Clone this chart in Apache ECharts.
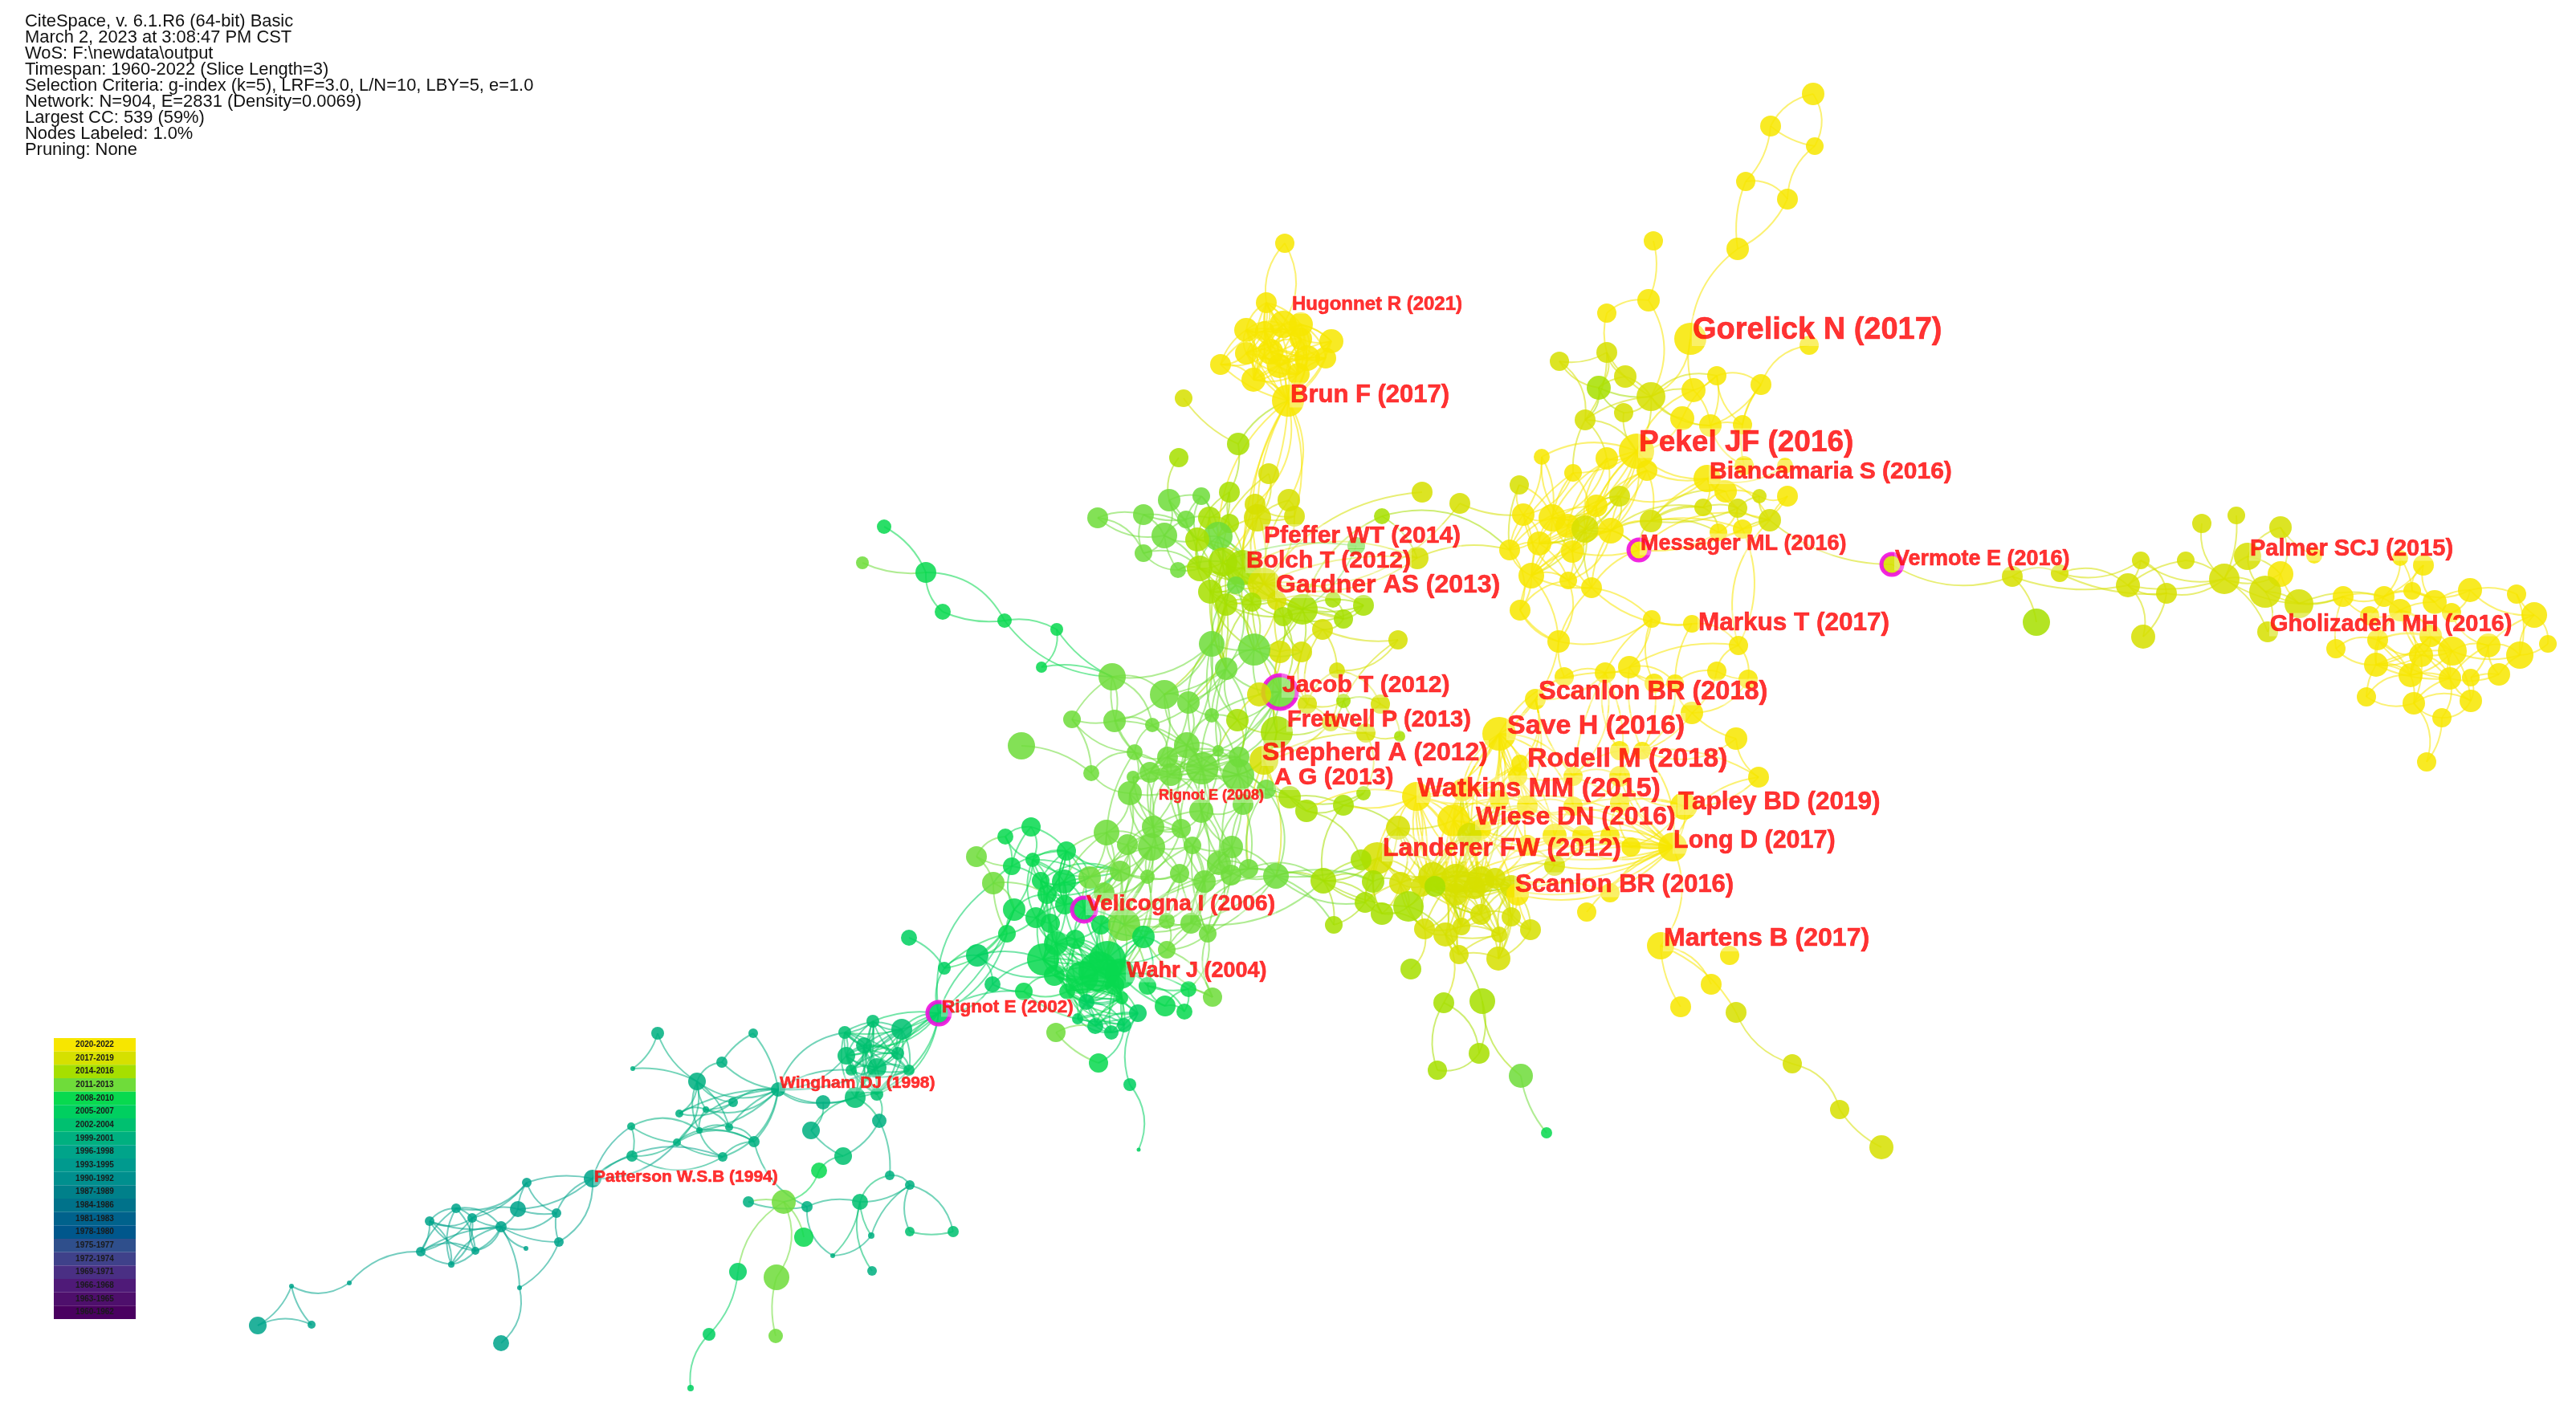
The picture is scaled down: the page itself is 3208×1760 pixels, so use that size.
<!DOCTYPE html>
<html>
<head>
<meta charset="utf-8">
<title>CiteSpace co-citation network</title>
<style>
  html, body { margin: 0; padding: 0; background: #fff; }
  #main { width: 3208px; height: 1760px; }
</style>
<script src="https://cdn.jsdelivr.net/npm/echarts@6/dist/echarts.min.js"></script>
</head>
<body>
<div id="main"></div>
<script>
const infoLines = [
  'CiteSpace, v. 6.1.R6 (64-bit) Basic',
  'March 2, 2023 at 3:08:47 PM CST',
  'WoS: F:\\newdata\\output',
  'Timespan: 1960-2022 (Slice Length=3)',
  'Selection Criteria: g-index (k=5), LRF=3.0, L/N=10, LBY=5, e=1.0',
  'Network: N=904, E=2831 (Density=0.0069)',
  'Largest CC: 539 (59%)',
  'Nodes Labeled: 1.0%',
  'Pruning: None'
]

// time slices, newest first (same order as the colour key)
const sliceLabels = ['2020-2022','2017-2019','2014-2016','2011-2013','2008-2010','2005-2007','2002-2004','1999-2001','1996-1998','1993-1995','1990-1992','1987-1989','1984-1986','1981-1983','1978-1980','1975-1977','1972-1974','1969-1971','1966-1968','1963-1965','1960-1962']
const sliceColors = ['#f7e600','#d6e000','#a6df00','#6fdc3a','#08d94f','#00cf60','#00c070','#00b080','#00a48a','#009a8e','#008f8e','#00808a','#00728a','#00628c','#00578c','#2f4f8c','#3f418a','#4a2f84','#4f1a78','#4e0f6c','#4a0060']

// nodes: [x, y, size, slice]
const nodesA = [
  [2258,117,28,0],[2205,157,26,0],[2260,182,22,0],[2174,226,24,0],[2226,248,26,0],[2164,310,28,0],[2105,422,40,0],[2253,430,24,0],
  [2059,300,24,0],[2053,374,28,0],[2001,390,24,0],[2001,439,26,1],[1942,450,24,1],[2024,469,28,1],[1991,483,30,2],[2056,494,36,1],
  [2022,514,24,1],[1974,523,26,1],[2109,486,30,0],[2138,468,24,0],[2193,479,26,0],[2095,521,30,0],[2130,530,28,0],[2170,529,24,0],
  [2038,562,44,0],[2001,571,28,0],[2051,586,26,0],[1959,589,22,0],[1920,569,20,0],[2126,596,34,0],[2149,612,28,0],[2226,618,26,0],
  [2191,618,18,1],[2121,632,22,1],[2164,633,24,1],[2204,648,28,1],[2223,580,20,0],[2172,580,24,0],[2017,618,26,1],[1988,630,28,0],
  [2056,649,28,1],[1933,645,34,0],[1897,641,28,0],[1952,655,30,0],[1974,659,34,1],[2006,661,32,0],[1917,677,30,0],[1880,685,26,0],
  [1958,687,28,0],[2041,685,26,0],[1907,717,32,0],[1953,723,22,0],[1982,732,26,0],[1893,760,26,0],[1941,799,28,0],[1948,843,24,0],
  [1892,604,24,1],[2165,804,24,0],[2107,777,22,0],[2057,771,22,0],[2170,659,24,0],[2140,663,22,0]
]
const nodesH = [
  [1600,303,24,0],[1577,377,26,0],[1552,411,30,0],[1575,412,24,0],[1598,404,34,0],[1620,404,30,0],[1620,422,28,0],[1658,425,30,0],
  [1552,440,28,0],[1582,438,32,0],[1651,446,26,0],[1628,446,32,0],[1520,454,26,0],[1593,456,30,0],[1617,466,28,0],[1561,473,30,0],
  [1604,499,40,0],[1474,496,22,1],[1542,553,28,2],[1468,570,24,2],[1580,590,26,1]
]
const nodesG = [
  [2356,703,26,1],[2506,718,26,1],[2565,714,22,1],[2666,698,22,1],[2722,698,22,1],[2650,729,30,1],[2698,739,26,1],[2536,775,34,2],
  [2669,793,30,1],[2770,721,38,1],[2742,652,24,1],[2785,642,22,1],[2840,657,28,1],[2799,693,34,1],[2840,715,32,0],[2821,737,40,1],
  [2863,752,36,1],[2824,787,26,1],[2882,692,20,0],[2918,743,26,0],[2969,743,26,0],[3004,736,22,0],[3032,750,30,0],[3076,735,30,0],
  [3134,740,24,0],[3156,766,32,0],[3018,704,26,0],[2989,695,20,0],[2951,767,24,0],[2989,760,28,0],[3053,763,24,0],[2961,797,26,0],
  [3027,792,28,0],[2909,808,24,0],[3015,816,30,0],[3054,811,36,0],[3099,804,30,0],[3138,816,34,0],[3173,802,22,0],[2959,828,30,0],
  [3002,841,30,0],[3051,845,28,0],[3077,844,22,0],[3112,840,28,0],[2947,868,24,0],[3006,876,28,0],[3077,873,28,0],[3041,894,24,0],
  [3022,949,24,0]
]
const nodesY = [
  [1912,871,26,0],[1867,914,42,0],[1999,838,26,0],[2029,831,28,0],[2138,836,24,0],[2177,846,24,0],[2060,851,24,0],[2086,851,22,0],
  [2107,888,28,0],[2162,920,28,0],[2190,968,26,0],[1893,951,22,0],[1764,992,36,0],[2097,1004,34,0],[1810,1022,40,0],[1741,1031,30,1],
  [2031,1055,24,0],[2083,1055,36,0],[1936,1041,30,0],[1971,1041,26,0],[2005,1041,24,0],[1936,1078,26,1],[1902,1053,26,0],[1844,1033,26,0],
  [1890,967,24,0],[1959,967,24,0],[2017,967,26,0],[1959,1004,24,0],[2017,1000,24,0],[1902,1004,26,0],[1867,996,24,0],[1821,984,28,0],
  [2017,935,24,0],[2045,935,22,0],[2005,1112,24,0],[1976,1136,24,0],[1830,1040,30,1]
]
const nodesL = [
  [1715,1069,40,1],[1695,1071,26,2],[1648,1097,32,2],[1589,1091,32,3],[1710,1098,28,2],[1744,1100,28,1],[1784,1092,36,1],[1813,1094,36,1],
  [1844,1096,34,1],[1770,1104,26,1],[1787,1104,26,2],[1813,1114,28,1],[1836,1106,28,1],[1862,1094,26,1],[1882,1104,28,1],[1890,1114,28,0],
  [1700,1124,26,2],[1721,1138,28,2],[1754,1129,38,2],[1661,1152,22,2],[1774,1157,26,1],[1800,1164,30,1],[1820,1154,22,1],[1844,1139,26,1],
  [1882,1142,24,1],[1906,1158,26,1],[1867,1164,20,1],[1817,1189,24,1],[1866,1194,30,1],[1757,1207,26,2],[1798,1249,26,2],[1846,1247,32,2],
  [1842,1312,26,2],[1790,1333,24,2],[1894,1340,30,3],[1926,1411,14,4]
]
const nodesM = [
  [2068,1178,34,0],[2154,1190,24,0],[2131,1226,26,0],[2093,1254,26,0],[2162,1261,26,1],[2232,1325,24,1],[2291,1382,24,1],[2343,1429,30,1]
]
const nodesC = [
  [1456,623,28,3],[1496,618,22,3],[1531,613,26,2],[1367,645,26,3],[1424,641,26,3],[1477,647,22,3],[1506,645,28,2],[1531,652,24,2],
  [1450,667,32,3],[1517,668,36,3],[1491,672,30,2],[1424,689,22,3],[1523,700,36,2],[1494,708,32,2],[1467,710,20,3],[1548,707,44,2],
  [1539,729,22,3],[1507,737,30,2],[1574,727,40,1],[1527,753,28,2],[1559,750,24,2],[1590,748,24,1],[1622,759,38,2],[1598,768,24,2],
  [1673,771,24,2],[1698,754,26,2],[1660,747,20,2],[1563,628,26,1],[1605,623,28,1],[1612,643,26,1],[1566,645,34,1],[1771,613,26,1],
  [1818,627,26,1],[1721,643,20,2],[1765,695,28,1],[1689,680,22,3]
]
const nodesJ = [
  [1647,784,26,1],[1741,797,24,1],[1594,812,28,1],[1621,812,26,1],[1562,809,40,3],[1509,802,32,3],[1665,835,20,1],[1385,843,34,3],
  [1450,865,36,3],[1480,875,28,3],[1527,833,28,3],[1297,831,14,4],[1316,784,16,4],[1251,773,18,4],[1174,762,20,4],[1153,713,26,4],
  [1101,656,18,4],[1074,701,16,3],[1594,862,42,3],[1568,865,30,1],[1335,896,22,3],[1388,898,28,3],[1435,903,18,3],[1509,891,18,3],
  [1541,897,28,2],[1590,912,40,2],[1628,877,24,1],[1673,873,18,2],[1719,877,24,1],[1657,900,22,1],[1701,913,24,1],[1743,917,14,2],
  [1272,929,34,3],[1413,937,20,3],[1478,928,32,3],[1454,943,26,3],[1517,935,14,3],[1543,943,26,3],[1497,957,40,3],[1432,962,26,3],
  [1458,965,28,3],[1542,965,40,3],[1359,963,20,3],[1411,968,16,3],[1574,947,36,1],[1407,988,30,3],[1577,983,24,3],[1606,993,28,2],
  [1548,1002,26,3],[1496,1010,30,3],[1627,1010,28,2],[1673,1003,26,2],[1698,988,18,2],[1471,1032,24,3],[1378,1037,32,3],[1436,1030,28,3]
]
const nodesV = [
  [1284,1030,24,4],[1252,1042,20,4],[1216,1067,26,3],[1328,1060,24,4],[1404,1052,26,3],[1434,1055,34,3],[1485,1053,22,3],[1534,1055,28,3],
  [1518,1075,30,3],[1555,1082,24,3],[1286,1071,18,4],[1260,1079,22,4],[1395,1085,26,3],[1429,1092,18,3],[1469,1088,24,3],[1533,1090,26,3],
  [1500,1098,28,3],[1357,1093,28,3],[1325,1098,30,4],[1296,1097,22,4],[1237,1100,28,3],[1304,1114,24,4],[1326,1127,24,4],[1375,1112,26,3],
  [1263,1133,28,4],[1290,1143,26,4],[1350,1133,30,4],[1308,1150,24,4],[1371,1152,24,4],[1400,1152,40,3],[1453,1147,20,3],[1483,1150,26,3],
  [1504,1163,22,3],[1424,1167,28,4],[1254,1163,22,4],[1132,1168,20,5],[1217,1190,28,5],[1315,1175,30,4],[1339,1170,24,4],[1299,1195,40,4],
  [1453,1183,22,3],[1379,1195,46,4],[1368,1210,50,4],[1348,1217,40,4],[1395,1213,38,4],[1313,1215,26,4],[1176,1206,16,5],[1236,1226,20,5],
  [1275,1235,22,4],[1329,1235,20,4],[1388,1227,24,4],[1429,1228,22,4],[1353,1248,20,5],[1397,1243,16,4],[1480,1232,20,4],[1451,1253,26,4],
  [1475,1260,20,4],[1510,1242,24,3],[1417,1262,22,5],[1342,1269,14,5],[1364,1278,20,5],[1384,1286,18,5],[1400,1277,18,5],[1315,1286,24,3],
  [1368,1324,24,4],[1407,1351,16,5],[1418,1432,5,5],[1169,1262,28,5]
]
const nodesW = [
  [1087,1272,16,6],[1052,1286,16,6],[1123,1282,26,6],[1076,1302,20,6],[1054,1315,22,6],[1118,1312,16,6],[1092,1330,24,6],[1060,1333,14,6],
  [1132,1333,14,6],[1065,1367,26,6],[1092,1363,16,6],[1025,1373,18,7],[1095,1396,18,7],[1010,1408,22,7],[969,1357,18,7],[868,1347,22,7],
  [899,1323,14,7],[819,1287,16,7],[938,1287,12,7],[788,1331,6,7],[913,1373,12,7],[846,1387,10,7],[879,1382,8,7],[786,1403,10,7],
  [908,1404,10,7],[871,1408,8,7],[843,1423,10,7],[939,1422,14,7],[900,1441,12,7],[787,1440,14,7],[738,1468,22,8],[656,1473,12,8],
  [645,1506,20,8],[568,1505,12,8],[588,1517,12,8],[535,1521,12,8],[693,1511,12,8],[624,1528,14,8],[696,1547,12,8],[655,1555,6,8],
  [524,1559,12,8],[592,1558,10,8],[562,1575,8,8],[435,1598,6,8],[363,1602,6,8],[388,1650,10,8],[321,1651,22,8],[647,1604,6,8],
  [624,1673,20,8],[1050,1440,22,6],[1020,1458,20,4],[976,1497,30,3],[932,1497,14,7],[1005,1503,14,7],[1071,1497,20,6],[1108,1464,12,7],
  [1133,1476,12,7],[1133,1534,12,6],[1187,1534,14,6],[1085,1539,8,7],[1037,1564,6,7],[1086,1583,12,7],[1001,1541,24,4],[919,1584,22,5],
  [967,1591,32,3],[883,1662,16,5],[966,1664,18,3],[860,1729,8,5]
]

// burst / centrality rings
const ringNodes = ['A49','G0','J18','V26','V67']

// "a>b c" links a to b and c, "*a b c" links every pair
const edgesA = [
  'A0>A1 A2','A1>A2 A3','A2>A4','A3>A4 A5','A4>A5','A5>A6','A6>A15 A18','A8>A9','A9>A10 A15','A10>A11','A11>A12 A13 A14 A15 A17',
  'A12>A14 A17','A13>A14 A15','A14>A16 A17 A15','A15>A24 A21 A16 A17 A18 A22 A19','A18>A19 A22 A24','A19>A20 A21 A22 A23','A20>A7 A23 A22 A37',
  'A17>A24 A27 A25','A16>A24','A21>A24 A22','A22>A23 A37','A24>A25 A26 A38 A29 A45 A39 A27 A28','A25>A39 A43','A26>A40 A45','A27>A44 A41','A28>A41',
  'A29>A30 A33 A34 A37 A36 A35','A30>A34 A32 A33','A31>A32 A35','A33>A34 A40 A61','A34>A35 A32 A60','A35>A32 A60','A38>A44 A39 A45','A39>A43 A44 A45 A48',
  'A40>A45 A33 A49','A41>A42 A43 A44 A46 A47 A48 A50 A56','A42>A46 A47 A50 A51','A43>A44 A46 A48 A45 A50','A44>A45 A46 A48 A51 A52 A50','A45>A48 A51 A52 A49',
  'A46>A47 A48 A50 A51','A47>A50 A53','A48>A50 A51 A52','A50>A51 A53 A54','A51>A52 A54','A52>A54 A59','A53>A54','A49>A35 A60',
  'A38>A41 A43 A46 A48','A39>A46 A47 A41','A45>A50 A40','A24>A41 A43 A44 A46','A25>A44 A41','A26>A39 A48 A38','A27>A42 A47','A28>A42 A43','A29>A38 A40 A26','A33>A45','A40>A30 A34 A61',
  'A60>A31 A61 A40','A61>A49 A34','A50>A44 A52 A53','A51>A53','A44>A49','A48>A49','A52>A49 A58','A58>A57','A59>Y2 Y3','A57>A60 A35','A56>A47'
]
const edgesH = [
  '*H1 H2 H3 H4 H5 H6 H8 H9 H11 H13 H14 H15 H16','H7>H5 H6 H10 H11 H14 H16 H4 H9 H13','H12>H2 H8 H15 H16 H3 H9','H10>H11 H14 H16 H5 H6 H13 H9','H0>H1 H4','H17>H18','H18>H16','H19>C0',
  'H16>C27 C30 C29 C18 C28 C15 C12 C9','H20>C30 C9','H18>C2'
]
const edgesG = [
  'G0>A35 G1','G1>G2 G5 G7','G2>G3 G5 G6','G3>G5 G9 G6','G4>G5 G9','G5>G6 G8 G9','G6>G8 G9','G9>G10 G11 G13 G14 G15 G16 G17','G12>G13 G14 G18','G13>G14 G15','G14>G15 G16',
  'G15>G16 G19 G17','G16>G19 G20','G19>G20 G29 G33','G20>G21 G27 G22 G26','G21>G22 G23 G26 G27','G22>G23 G30 G26 G29','G23>G24 G25 G30','G24>G25 G37','G25>G37 G38 G36','G38>G37',
  '*G29 G31 G32 G34 G35 G39 G40 G41','G36>G35 G37 G41 G42 G43 G30','G37>G43 G35','G33>G39 G31','G39>G44 G40','G44>G45 G40','G45>G40 G41 G47 G46 G34','G46>G41 G42 G47 G35','G47>G48 G41','G45>G48','G43>G42 G41','G28>G29 G31 G20 G19'
]
const edgesY = [
  'Y17>Y16 Y20 Y19 Y18 Y22 Y21 Y13 Y28 Y27 Y26 Y34 L8 L12 L13 L14 L15 L7 Y36 Y23 M0 Y35 Y29 Y30 Y24 Y25 Y32 Y33 Y10','Y1>Y0 Y11 Y24 Y25 Y29 Y30 Y31 Y12 Y14 Y36 Y23 Y2 L6 L7 L8 L13 Y22 Y18 Y19 Y27','Y0>A54 A55 Y2 Y24 Y25 Y29 Y30 Y11','A54>A55 A53 A59','A55>Y2',
  'Y2>Y3 Y6 Y32 Y25 Y27 Y26','Y3>Y6 Y7 Y33 A57','Y4>Y7 A57 Y5 Y8','Y5>A57 Y8','Y6>Y7 Y33','Y7>Y8 Y33','Y8>Y9 Y33','Y9>Y10 Y33','A58>Y7 A59','A59>Y6','Y11>Y24 Y29 Y12 Y30 Y31 Y14',
  'Y12>Y14 Y15 Y31 Y30 Y23 L0 L5 L6 J51 J50 L7 L8 L9 L10 L11 L22','*Y14 Y23 Y36 L6 L7 L8 Y29 Y30 Y31','Y14>L10 L11 L12 L13 L22','Y23>L11 L12 L13 L14','Y36>L9 L10 L11 L12','Y15>L0 L5 Y14 L9 L6 L10 L4 L16','Y18>Y19 Y22 Y21 Y23','Y19>Y20 Y21','Y20>Y16 Y28','Y21>L13 L14 Y22','Y22>Y23 L13 L8',
  'Y24>Y25 Y29 Y30','Y25>Y26 Y27 Y32','Y26>Y28 Y27 Y32 Y33','Y27>Y28 Y29 Y18','Y28>Y13 Y16','Y29>Y27 Y22 Y36','Y30>Y31 Y23','Y31>Y14','Y13>Y16 Y10 Y26 Y27','Y33>Y10','Y34>L15','M0>M2 M3 M4','M4>M5','M5>M6','M6>M7'
]
const edgesL = [
  'L2>L1 L0 L4 L16 L19 L3 L17 L18','L3>L19 V7 V8 L0 L4 L16','L0>L1 L4 L5 L6 L9 L16 L18 L17 L7 L10','L1>L4','L4>L16 L5 L17','L5>L6 L9 L18 L16 L17 L20 L10','L16>L17 L19','L17>L18 L20','L18>L20 L21 L9','*L6 L7 L8 L9 L10 L11 L12 L13 L14 L22 L23',
  'L15>L14 L13 L25 L24','L20>L21 L29 L22','L21>L22 L27 L30 L26','L22>L26 L27','L23>L24 L26 L28','L24>L25 L26 L28','L25>L28 L14','L26>L28 L27','L27>L28','L30>L33 L32','L31>L21 L32 L34','L32>L33','L34>L35',
  'L6>L18 L20 L21','L7>L20 L21 L27','L8>L24 L26','L13>L24 L25 L28','L14>L24 L28 L26','L11>L20 L26','L12>L26 L27 L28'
]
const edgesC = [
  'C3>C4 C8 C11','C4>C5 C8 C11 C10','C5>C8 C6 C10','C1>C6 C5 C9 C10','C2>C6 C7 C9 C10','C6>C7 C9 C10 C12','C7>C9 C12 C15','C8>C10 C11 C14 C13','C11>C14 C13','*C9 C10 C12 C13 C15 C17 C18 C16','C14>C13 C12',
  'C16>C19 C20','C17>C19 C20 C21','C18>C19 C20 C21 C22 C23 C27 C28 C29 C30 C24 C25 C34','C19>C20 C23 J5 J10 J4','C20>C23 C22 J4','C21>C22 C23 C26','C22>C23 C24 C25 C26 J0 J4 J2 J3','C24>C25 J0','C25>C26','C23>C24 C25','C26>C24',
  'C27>C15 C30 C29','C28>C29 C30','C29>C30','C30>C15 C12 C9','C0>C1 C5 C8 C10 C13','C31>C18','C32>C18 A42','C33>C34 C22 A47','C34>C18 A47 C15','A42>A56','C35>C12 C22','C12>C19 C20 C22','C13>C19 C14','C15>C20 C21','C9>C19',
  'C17>J4 J5 J10','C12>J5 J10','C19>J9 J10 J8','C20>J10 J4 J18','C23>J2 J3 J18','C21>J2 J4','C16>J5 J10','C15>J4'
]
const edgesJ = [
  'J17>J15','J16>J15','J15>J14 J13','J14>J13','J13>J12 J7','J12>J11 J7','J11>J7','J7>J5 J8 J20 J21 J33 J22','J5>J4 J8 J9 J10 J23 J34 J24','J8>J9 J10 J21 J34 J39','J9>J4 J10 J23 J34 J38 J35','J10>J18 J4 J23 J22 J24 J37 J36','J4>J2 J3 J18 J19',
  'J2>J3 J18 J19 J25','J3>J18 J26 J0','J0>J1 J6 J26','J1>J6 J27','J6>J29 J26 J28','J18>J19 J24 J25 J26 J23 J36 J41 J37 J44 J38','J19>J24 J25','J20>J21 J42 J33','J21>J22 J33 J34','J22>J33 J35 J34','J23>J24 J34 J36 J38 J41','J24>J25 J37 J36',
  'J25>J44 J29 J41 J26','J26>J29 J27','J27>J28 J30 J29','J28>J30 J31','J29>J30 J44','J30>J31 J52 J44','J32>J42','J42>J45 J33','J33>J39 J40 J35 J45 J54 J55','*J34 J35 J36 J37 J38 J39 J40 J41','J38>J43 J45 J49 J48 J53 V6 V7','J39>J43 J45 J53 J55',
  'J40>J43 J55 J49','J41>J44 J46 J47 J48 J49 V7 V15','J43>J45 J55','J44>J46 J47 J48 V9 L3','J45>J55 J54 J53 V4 V5','J46>J47 J48 J50 V9 L3','J47>J50 J51 J52','J48>J49 V7 V9 V8','J49>J53 J55 V6 V7 V8 V15 V16','J50>J51 L1','J51>J52 Y15 L2','J53>J55 V4 V5 V6 V14 V16 V13','J54>V4 V5 V3 V17 V12 V23 V18','J55>V5 V4 V6 V12 V13 V14',
  'J34>J49 J53 J55','J35>J55 J49 J53','J36>J49 J48','J37>J48 J46'
]
const edgesV = [
  'V0>V3 V1 V10 V11','V1>V11 V10','V2>V1 V11 V20','*V3 V10 V18 V19 V21 V22 V17 V12','V4>V5 V12 V13 V17 V23 V28','V5>V6 V12 V13 V14 V17 V23 V29 V28 V41 V44','V6>V7 V14 V15 V16 V29 V31 V32','V7>V8 V9 V15 V16 V32 V31','V8>V9 V15 V16 V31 V32','V9>V15 L3 V32 L2','V12>V13 V23 V14 V28 V26 V41','V13>V14 V23 V29 V33 V41 V44','V14>V16 V29 V30 V33 V32',
  'V15>V16 V31','V16>V31 V29 V30 V32 V40','V11>V20 V19 V24','V20>V24 V34 V21','V21>V24 V25 V27 V37 V39','V22>V26 V25 V27','V23>V26 V29 V41 V28','V17>V26 V28','V24>V25 V36 V34 V46','V25>V27 V34 V37 V39','V26>V28 V29 V38 V37 V41 V42','V27>V37 V39 V38 V45 V43','V28>V29 V33 V38 V41 V44 V42',
  'V29>V30 V31 V33 V41 V44 L3 L2 V42 V51','V30>V31 V40 V33','V31>V32 L2 L3 V40','V32>V40 V57 V54 L3','V33>V40 V44 V51 V41 V42 V50','V34>V36 V46','V35>V46','V36>V46 V47 V67 V39 V45','V47>V67 V48 V39','V46>V67','*V37 V38 V39 V41 V42 V43 V44 V45 V49 V50 V52 V53',
  'V3>V21 V22 V26 V11','V10>V24 V25','V18>V26 V38 V37 V27','V19>V25 V27 V39','V48>V49 V45 V59','V41>V51 V40','V44>V51 V55 V54','V51>V55 V56 V54','V54>V56 V55','V55>V56','V57>V54 V33 V40','*V49 V50 V52 V53 V58 V59 V60 V61 V62','V62>V64','V63>V64 V60','V58>V65','V65>V66'
]
const edgesW = [
  '*W0 W1 W2 W3 W4 W5 W6 W7 W8 W9 W10','V67>W0 W1 W2 W3 W5 W8 W6 W10 W9 W4 V34 V20 V24 V48','W14>W4 W1 W6 W7 W9 W15 W18 W16 W20 W22 W24 W27 W11 W28 W21 W25 W26','W11>W13 W9','W9>W12 W13','W10>W12','W13>W49','W12>W49','W49>W50','W50>W51','W51>W52 W62 W63 W64','W52>W53','W53>W54','W27>W53',
  'W54>W55 W59 W60 W61','W55>W56 W12','W56>W54 W57 W58','W57>W58','W59>W56','W60>W59 W53','W64>W66','W63>W65','W65>W67','W15>W16 W19 W17 W20 W21 W22 W24 W25 W26','W18>W16','W17>W19',
  'W21>W20 W22','W22>W20 W24 W25','W23>W25 W26 W29','W24>W25 W27','W25>W26 W27 W28','W26>W27 W28 W29','W27>W28','W28>W29','W29>W30','W30>W23 W26 W28 W31 W32 W36 W38','W31>W32 W34 W36 W33','W32>W36 W37 W34','W36>W37 W38','W38>W47','W37>W39 W41 W38','*W33 W34 W35 W37 W40 W41 W42','W40>W43','W43>W44','W44>W45 W46','W45>W46','W47>W48 W37'
]

// cited reference labels
const labelNames = ['Gorelick N (2017)','Pekel JF (2016)','Biancamaria S (2016)','Hugonnet R (2021)','Brun F (2017)','Pfeffer WT (2014)','Bolch T (2012)','Gardner AS (2013)','Messager ML (2016)','Vermote E (2016)','Palmer SCJ (2015)','Gholizadeh MH (2016)','Markus T (2017)','Jacob T (2012)','Fretwell P (2013)','Scanlon BR (2018)','Save H (2016)','Shepherd A (2012)','A G (2013)','Rodell M (2018)','Watkins MM (2015)','Wiese DN (2016)','Tapley BD (2019)','Long D (2017)','Landerer FW (2012)','Scanlon BR (2016)','Martens B (2017)','Rignot E (2008)','Velicogna I (2006)','Wahr J (2004)','Rignot E (2002)','Wingham DJ (1998)','Patterson W.S.B (1994)']
const labelX = [2107,2040,2128,1608,1606,1573,1551,1588,2042,2359,2801,2826,2114,1596,1602,1915,1876,1571,1586,1901,1764,1837,2089,2083,1721,1886,2071,1442,1352,1402,1172,970,739]
const labelY = [412,552,588,379,492,668,699,729,678,697,684,778,776,854,897,862,905,938,969,946,983,1018,999,1048,1057,1102,1169,991,1126,1210,1255,1349,1466]
const labelSizes = [38,37,30,24,31,30,30,32,27,27,29,29,31.5,30,29,32.5,34,32,30,34,34,32,31.5,30.5,32,31,32,18,28,27,22.5,21,21]

const regions = { A: nodesA, H: nodesH, G: nodesG, Y: nodesY, L: nodesL, M: nodesM, C: nodesC, J: nodesJ, V: nodesV, W: nodesW }
const edgeSpecs = [].concat(edgesW, edgesV, edgesJ, edgesC, edgesL, edgesY, edgesG, edgesH, edgesA)

// flatten regions into graph nodes, ids like "A12"
const nodeIndex = {}
const graphNodes = []
Object.keys(regions).forEach(key => {
  regions[key].forEach((n, i) => {
    const id = key + i
    nodeIndex[id] = graphNodes.length
    const ring = ringNodes.indexOf(id) >= 0
    graphNodes.push({
      name: id,
      value: [n[0], n[1]],
      symbolSize: n[2],
      itemStyle: ring
        ? { color: sliceColors[n[3]], opacity: 0.9, borderColor: '#f010e0', borderWidth: 5 }
        : { color: sliceColors[n[3]], opacity: 0.86 }
    })
  })
})

const curves = [0.18, -0.24, 0.3, -0.14]
const graphLinks = []
function addLink(a, b) {
  const from = regions[a[0]][+a.slice(1)]
  graphLinks.push({
    source: nodeIndex[a],
    target: nodeIndex[b],
    lineStyle: { color: sliceColors[from[3]], width: 2, opacity: 0.55, curveness: curves[graphLinks.length % 4] }
  })
}
edgeSpecs.forEach(spec => {
  if (spec[0] === '*') {
    const ids = spec.slice(1).split(' ')
    ids.forEach((a, i) => ids.slice(i + 1).forEach(b => addLink(a, b)))
  } else {
    const parts = spec.split('>')
    parts[1].split(' ').forEach(b => addLink(parts[0], b))
  }
})

const chart = echarts.init(document.getElementById('main'))
chart.setOption({
  animation: false,
  backgroundColor: '#fff',
  title: {
    left: 31,
    top: 17,
    padding: 0,
    text: infoLines.join('\n'),
    textStyle: { fontFamily: 'Liberation Sans', fontSize: 21.9, fontWeight: 'normal', lineHeight: 20, color: '#111' }
  },
  grid: [
    { left: 0, right: 0, top: 0, bottom: 0 },
    { left: 67, top: 1293, width: 102, height: 350 }
  ],
  xAxis: [
    { type: 'value', min: 0, max: 3208, show: false },
    { type: 'value', min: 0, max: 1, show: false, gridIndex: 1 }
  ],
  yAxis: [
    { type: 'value', min: 0, max: 1760, inverse: true, show: false },
    { type: 'category', data: sliceLabels, inverse: true, show: false, gridIndex: 1 }
  ],
  series: [
    {
      type: 'graph',
      coordinateSystem: 'cartesian2d',
      layout: 'none',
      silent: true,
      data: graphNodes,
      links: graphLinks,
      z: 2
    },
    {
      type: 'scatter',
      silent: true,
      symbolSize: 0,
      z: 5,
      data: labelNames.map((name, i) => ({
        name: name,
        value: [labelX[i], labelY[i]],
        label: { fontSize: labelSizes[i] }
      })),
      label: {
        show: true,
        position: 'right',
        distance: 0,
        formatter: '{b}',
        color: '#ff0000',
        textBorderColor: '#ff0000',
        textBorderWidth: 0.6,
        fontFamily: 'Liberation Sans',
        fontWeight: 'bold',
        backgroundColor: 'rgba(255,255,255,0.38)',
        padding: [0, 1]
      }
    },
    {
      type: 'bar',
      xAxisIndex: 1,
      yAxisIndex: 1,
      barWidth: '100%',
      silent: true,
      data: sliceLabels.map((s, i) => ({ value: 1, itemStyle: { color: sliceColors[i] } })),
      label: {
        show: true,
        position: 'inside',
        formatter: '{b}',
        fontFamily: 'Liberation Sans',
        fontSize: 10,
        fontWeight: 'bold',
        color: '#1a1a1a'
      }
    }
  ]
})
</script>
</body>
</html>
